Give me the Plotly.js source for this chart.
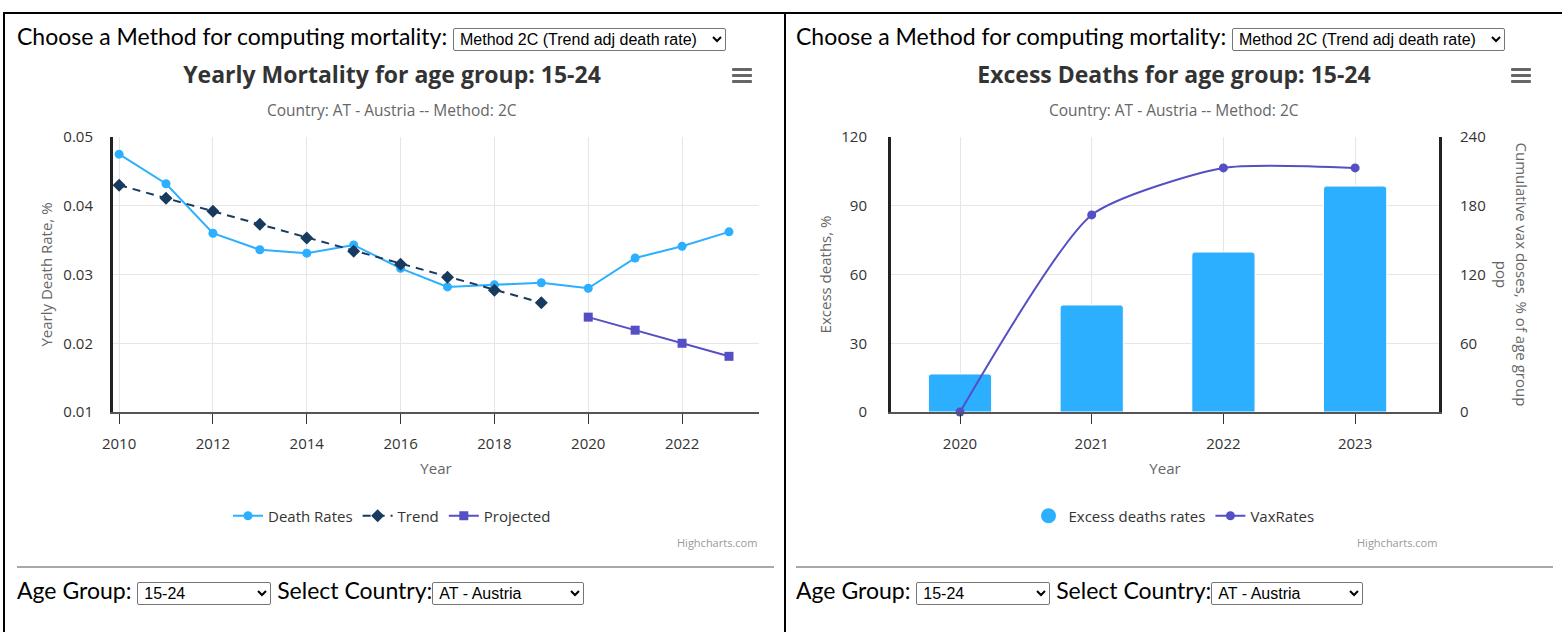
<!DOCTYPE html>
<html>
<head>
<meta charset="utf-8">
<script src="https://cdn.plot.ly/plotly-3.0.1.min.js"></script>
<style>
  html, body { margin: 0; padding: 0; background: #fff; width: 1562px; height: 632px; overflow: hidden; }
  body { font-family: Lato, "Open Sans", sans-serif; color: #000; position: relative; }
  .panelL { position: absolute; left: 3px; top: 12px; width: 779px; height: 640px;
            border-left: 2px solid #000; border-top: 2px solid #000; border-right: 2px solid #000; }
  .panelR { position: absolute; left: 786px; top: 12px; width: 800px; height: 640px; border-top: 2px solid #000; }
  .ctrl { position: absolute; font-size: 23px; line-height: 24px; white-space: nowrap; }
  select { font-family: "Liberation Sans", Arial, sans-serif; font-size: 16px; height: 23px;
           border: 1px solid #767676; border-radius: 2px; background: #fff; color: #000; vertical-align: middle; padding: 0 0 0 2px; }
  .hr { position: absolute; height: 0; border-top: 2px solid #a8a8a8; }
  .burger { position: absolute; width: 20px; height: 3px; background: #666; border-radius: 1px; }
  .chart { position: absolute; top: 50px; height: 510px; }
</style>
</head>
<body>
<div class="panelL"></div>
<div class="panelR"></div>

<div class="ctrl" style="left:17px; top:24px;">Choose a Method for computing mortality: <select style="width:273px"><option>Method 2C (Trend adj death rate)</option></select></div>
<div class="ctrl" style="left:796px; top:24px;">Choose a Method for computing mortality: <select style="width:273px"><option>Method 2C (Trend adj death rate)</option></select></div>

<div id="chartL" class="chart" style="left:0px; width:784px;"></div>
<div id="chartR" class="chart" style="left:786px; width:776px;"></div>

<div class="burger" style="left:732px; top:68px;"></div>
<div class="burger" style="left:732px; top:74px;"></div>
<div class="burger" style="left:732px; top:80px;"></div>
<div class="burger" style="left:1511px; top:68px;"></div>
<div class="burger" style="left:1511px; top:74px;"></div>
<div class="burger" style="left:1511px; top:80px;"></div>

<div class="hr" style="left:17px; top:566px; width:757px;"></div>
<div class="hr" style="left:796px; top:566px; width:757px;"></div>

<div class="ctrl" style="left:17px; top:578px;">Age Group: <select style="width:134px"><option>15-24</option></select> Select Country:<select style="width:152px"><option>AT - Austria</option></select></div>
<div class="ctrl" style="left:796px; top:578px;">Age Group: <select style="width:134px"><option>15-24</option></select> Select Country:<select style="width:152px"><option>AT - Austria</option></select></div>

<script>
// ---------- Data ----------
const deathYears = [2010, 2011, 2012, 2013, 2014, 2015, 2016, 2017, 2018, 2019, 2020, 2021, 2022, 2023];
const deathRates = [0.0475, 0.0432, 0.0360, 0.0336, 0.0331, 0.0343, 0.0309, 0.0282, 0.0285, 0.0288, 0.0280, 0.0324, 0.0341, 0.0362];

const trendYears = [2010, 2011, 2012, 2013, 2014, 2015, 2016, 2017, 2018, 2019];
const trendRates = [0.0430, 0.0411, 0.0392, 0.0373, 0.0353, 0.0334, 0.0315, 0.0296, 0.0277, 0.0259];

const projYears = [2020, 2021, 2022, 2023];
const projRates = [0.0238, 0.0219, 0.0200, 0.0181];

const excessYears = ['2020', '2021', '2022', '2023'];
const excessRates = [16.6, 46.7, 69.8, 98.6];
const vaxRates = [0, 172, 213, 213];

const leftTitle = 'Yearly Mortality for age group: 15-24';
const rightTitle = 'Excess Deaths for age group: 15-24';
const subtitle = 'Country: AT - Austria -- Method: 2C';

// ---------- Styling ----------
const FONT = 'Open Sans, Noto Sans, sans-serif';
const C_BLUE = '#2caffe', C_PURPLE = '#544fc5', C_NAVY = '#173a5e';
const GRID = '#e6e6e6';
const FS = 15;

function baseLayout(W, H, m, title) {
  const pw = W - m.l - m.r, ph = H - m.t - m.b;
  return {
    width: W, height: H, margin: m,
    paper_bgcolor: 'rgba(0,0,0,0)', plot_bgcolor: '#fff',
    font: { family: FONT, size: FS, color: '#333' },
    title: { text: '<b>' + title + '</b>', font: { family: FONT, size: 23, color: '#333' },
             xref: 'container', x: 0.5, xanchor: 'center', yref: 'container', y: 1 - 25 / H, yanchor: 'middle' },
    showlegend: true,
    legend: { orientation: 'h', xref: 'container', x: 0.5, xanchor: 'center', yref: 'container',
              y: 1 - 466 / H, yanchor: 'middle', font: { family: FONT, size: FS, color: '#333' },
              itemclick: false, itemdoubleclick: false },
    hovermode: false,
    annotations: [
      { text: subtitle, xref: 'paper', yref: 'paper', x: (W / 2 - m.l) / pw, y: 1 + 27 / ph,
        xanchor: 'center', yanchor: 'middle', showarrow: false, font: { family: FONT, size: 15.5, color: '#666' } },
      { text: 'Highcharts.com', xref: 'paper', yref: 'paper', x: 1, y: -(130 / ph),
        xanchor: 'right', yanchor: 'middle', showarrow: false, font: { family: FONT, size: 11, color: '#999' } }
    ],
    _pw: pw, _ph: ph
  };
}

// ---------- Left chart ----------
(function () {
  const W = 784, H = 510, m = { l: 113, r: 25, t: 87, b: 148 };
  const layout = baseLayout(W, H, m, leftTitle);
  layout.xaxis = {
    range: [2009.87, 2023.64], tick0: 2010, dtick: 2, showgrid: true, gridcolor: GRID, zeroline: false,
    showline: true, linecolor: '#555', linewidth: 2, ticks: 'outside', ticklen: 10, tickcolor: '#333', tickwidth: 1,
    tickfont: { size: FS, color: '#333' }, ticklabelstandoff: 7,
    title: { text: 'Year', font: { size: FS, color: '#666' }, standoff: 11 }
  };
  layout.yaxis = {
    range: [0.01, 0.05], tick0: 0.01, dtick: 0.01, tickformat: '.2f', showgrid: true, gridcolor: GRID, zeroline: false,
    showline: true, linecolor: '#222', linewidth: 3, ticks: '', tickfont: { size: FS, color: '#333' }, ticklabelstandoff: 14,
    title: { text: 'Yearly Death Rate, %', font: { size: FS, color: '#666' }, standoff: 8 }
  };
  delete layout._pw; delete layout._ph;
  const traces = [
    { type: 'scatter', mode: 'lines+markers', name: 'Death Rates', x: deathYears, y: deathRates,
      line: { color: C_BLUE, width: 2 }, marker: { color: C_BLUE, size: 9, symbol: 'circle' }, cliponaxis: false },
    { type: 'scatter', mode: 'lines+markers', name: 'Trend', x: trendYears, y: trendRates,
      line: { color: C_NAVY, width: 2, dash: '8px,6px' }, marker: { color: C_NAVY, size: 10, symbol: 'diamond' }, cliponaxis: false },
    { type: 'scatter', mode: 'lines+markers', name: 'Projected', x: projYears, y: projRates,
      line: { color: C_PURPLE, width: 2 }, marker: { color: C_PURPLE, size: 9, symbol: 'square' }, cliponaxis: false }
  ];
  Plotly.newPlot('chartL', traces, layout, { displayModeBar: false, staticPlot: true });
})();

// ---------- Right chart ----------
(function () {
  const W = 776, H = 510, m = { l: 105, r: 123, t: 87, b: 148 };
  const layout = baseLayout(W, H, m, rightTitle);
  const pw = layout._pw;
  delete layout._pw; delete layout._ph;
  layout.barcornerradius = 3;
  layout.xaxis = {
    type: 'category', range: [-0.524, 3.637], showgrid: true, gridcolor: GRID, zeroline: false,
    showline: true, linecolor: '#555', linewidth: 2, ticks: 'outside', ticklen: 10, tickcolor: '#333', tickwidth: 1,
    tickfont: { size: FS, color: '#333' }, ticklabelstandoff: 7,
    title: { text: 'Year', font: { size: FS, color: '#666' }, standoff: 11 }
  };
  layout.yaxis = {
    range: [0, 120], dtick: 30, showgrid: true, gridcolor: GRID, zeroline: false,
    showline: true, linecolor: '#222', linewidth: 3, ticks: '', tickfont: { size: FS, color: '#333' }, ticklabelstandoff: 18,
    title: { text: 'Excess deaths, %', font: { size: FS, color: '#666' }, standoff: 7 }
  };
  layout.yaxis2 = {
    overlaying: 'y', side: 'right', range: [0, 240], dtick: 60, showgrid: false, zeroline: false,
    showline: true, linecolor: '#222', linewidth: 3, ticks: '', tickfont: { size: FS, color: '#333' }, ticklabelstandoff: 15
  };
  layout.annotations.push({
    text: 'Cumulative vax doses, % of age group<br>pop', xref: 'paper', yref: 'paper',
    x: 1 + 73 / pw, y: 0.5, xanchor: 'center', yanchor: 'middle', textangle: 90, showarrow: false,
    font: { family: FONT, size: FS, color: '#666' }
  });
  const traces = [
    { type: 'bar', name: 'Excess deaths rates', x: excessYears, y: excessRates, width: 0.48,
      marker: { color: C_BLUE, line: { color: '#fff', width: 1 } }, showlegend: false },
    { type: 'scatter', mode: 'markers', name: 'Excess deaths rates', x: [null], y: [null],
      marker: { color: C_BLUE, size: 15, symbol: 'circle' }, showlegend: true },
    { type: 'scatter', mode: 'lines+markers', name: 'VaxRates', x: excessYears, y: vaxRates, yaxis: 'y2',
      line: { color: C_PURPLE, width: 2, shape: 'spline', smoothing: 0.6 }, marker: { color: C_PURPLE, size: 9 }, cliponaxis: false }
  ];
  Plotly.newPlot('chartR', traces, layout, { displayModeBar: false, staticPlot: true });
})();
</script>
</body>
</html>
